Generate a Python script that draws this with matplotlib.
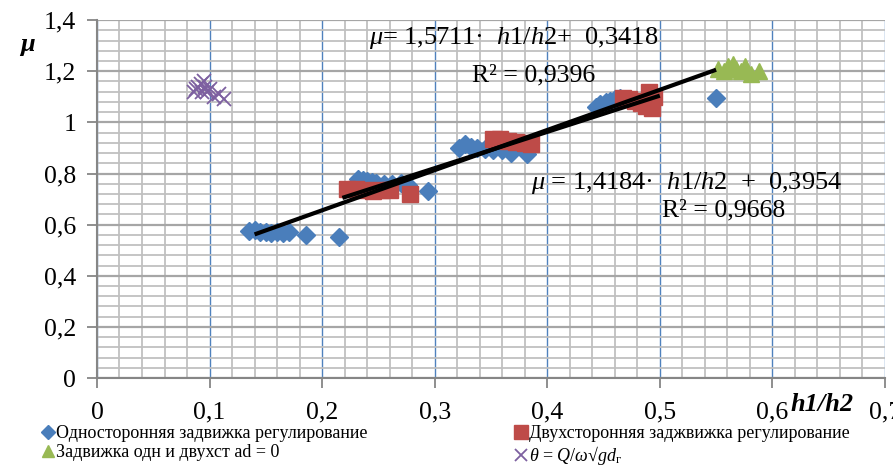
import matplotlib
matplotlib.use("Agg")
import matplotlib.pyplot as plt
from matplotlib.ticker import MultipleLocator, FuncFormatter
import numpy as np

plt.rcParams['font.family'] = ['Liberation Serif', 'DejaVu Serif']
plt.rcParams['mathtext.fontset'] = 'custom'
plt.rcParams['mathtext.rm'] = 'Liberation Serif'
plt.rcParams['mathtext.it'] = 'Liberation Serif:italic'
plt.rcParams['mathtext.bf'] = 'Liberation Serif:bold'

# односторонняя задвижка
one_x = [0.135, 0.14, 0.145, 0.15, 0.155, 0.16, 0.165, 0.171, 0.186, 0.215,
         0.232, 0.236, 0.24, 0.244, 0.248, 0.255, 0.262, 0.27, 0.276, 0.294,
         0.322, 0.327, 0.332, 0.338, 0.345, 0.352, 0.36, 0.368, 0.382,
         0.443, 0.447, 0.452, 0.456, 0.46, 0.465, 0.55]
one_y = [0.575, 0.578, 0.572, 0.571, 0.568, 0.57, 0.567, 0.572, 0.558, 0.55,
         0.778, 0.775, 0.77, 0.765, 0.762, 0.76, 0.757, 0.763, 0.755, 0.73,
         0.9, 0.915, 0.905, 0.9, 0.895, 0.893, 0.89, 0.882, 0.875,
         1.06, 1.07, 1.08, 1.085, 1.09, 1.095, 1.095]

# двухсторонняя задвижка
two_x = [0.222, 0.23, 0.238, 0.245, 0.252, 0.26, 0.278,
         0.352, 0.358, 0.365, 0.372, 0.38, 0.386,
         0.467, 0.473, 0.478, 0.483, 0.488, 0.493, 0.495, 0.49]
two_y = [0.74, 0.738, 0.735, 0.733, 0.735, 0.737, 0.718,
         0.935, 0.935, 0.928, 0.925, 0.92, 0.915,
         1.095, 1.09, 1.085, 1.075, 1.065, 1.055, 1.1, 1.12]

# ad = 0
ad_x = [0.552, 0.557, 0.561, 0.565, 0.568, 0.572, 0.576, 0.581, 0.588]
ad_y = [1.21, 1.2, 1.22, 1.23, 1.21, 1.2, 1.22, 1.19, 1.2]

# theta
th_x = [0.086, 0.088, 0.09, 0.092, 0.093, 0.095, 0.096, 0.098, 0.1, 0.104, 0.108, 0.113]
th_y = [1.12, 1.13, 1.14, 1.15, 1.12, 1.16, 1.14, 1.12, 1.13, 1.1, 1.11, 1.09]

# линии тренда: коэффициенты и диапазон
trend1 = (1.5711, 0.3418, 0.14, 0.55)
trend2 = (1.4184, 0.3954, 0.218, 0.5)

labels = ["Односторонняя задвижка регулирование",
          "Двухсторонняя заджвижка регулирование",
          "Задвижка одн и двухст ad = 0",
          r"$\theta$ = $Q/\omega$√$gd$$_\mathrm{г}$"]

fig = plt.figure(figsize=(8.93, 4.68), dpi=100)
ax = fig.add_axes([0.1086, 0.1923, 0.991 - 0.1086, 0.957 - 0.1923])

blue = '#4a7ebb'
red = '#be4b48'
green = '#98b954'
purple = '#7d60a0'

h1 = ax.plot(one_x, one_y, 'D', color=blue, ms=9, mec=blue, zorder=3)[0]
h2 = ax.plot(two_x, two_y, 's', color=red, ms=12, mec=red, zorder=3)[0]
h3 = ax.plot(ad_x, ad_y, '^', color=green, ms=11, mec=green, zorder=3)[0]
h4 = ax.plot(th_x, th_y, 'x', color=purple, ms=10, mew=1.3, zorder=3)[0]

for k, b, x0, x1 in [trend1, trend2]:
    xs = np.array([x0, x1])
    ax.plot(xs, k * xs + b, color='black', lw=3, zorder=4, solid_capstyle='butt')

ax.set_xlim(0, 0.7)
ax.set_ylim(0, 1.4)
ax.xaxis.set_major_locator(MultipleLocator(0.1))
ax.xaxis.set_minor_locator(MultipleLocator(0.02))
ax.yaxis.set_major_locator(MultipleLocator(0.2))
ax.yaxis.set_minor_locator(MultipleLocator(0.04))

fmt = FuncFormatter(lambda v, p: ('%g' % round(v, 2)).replace('.', ','))
ax.xaxis.set_major_formatter(fmt)
ax.yaxis.set_major_formatter(fmt)

ax.grid(which='major', axis='x', color='#4f81bd', lw=1.0)
ax.grid(which='minor', axis='x', color='#c0c0c0', lw=1.3)
ax.grid(which='major', axis='y', color='#a6a6a6', lw=1.6)
ax.grid(which='minor', axis='y', color='#c0c0c0', lw=1.3)
ax.set_axisbelow(True)

for s in ['top', 'right']:
    ax.spines[s].set_visible(False)
for s in ['left', 'bottom']:
    ax.spines[s].set_color('#868686')
    ax.spines[s].set_linewidth(1.5)

ax.tick_params(which='major', length=7, width=1.3, color='#868686', labelsize=18.5)
ax.tick_params(which='minor', length=0)
ax.tick_params(axis='x', pad=10)
ax.tick_params(axis='y', pad=8)

ax.text(0.242, 1.33, r"$\mu$= 1,5711·  $h$1/$h$2+  0,3418", fontsize=19, va='center')
ax.text(0.333, 1.185, "R² = 0,9396", fontsize=18.5, va='center')
ax.text(0.386, 0.763, r"$\mu$ = 1,4184·  $h$1/$h$2  +  0,3954", fontsize=19, va='center')
ax.text(0.502, 0.657, "R² = 0,9668", fontsize=18.5, va='center')

fig.text(0.022, 0.905, "μ", fontsize=19, fontweight='bold', fontstyle='italic', va='center')
fig.text(0.885, 0.135, "h1/h2", fontsize=19, fontweight='bold', fontstyle='italic', va='center')

# порядок: по строкам, как в Excel
fig.legend(handles=[h1, h3, h2, h4], labels=[labels[0], labels[2], labels[1], labels[3]],
           loc='lower left', bbox_to_anchor=(0.035, -0.022),
           ncol=2, frameon=False, fontsize=13, handlelength=0.6, handletextpad=0.15,
           columnspacing=8.2, labelspacing=0.12, borderpad=0.1, markerscale=0.8)

fig.savefig("out.png", dpi=100)
